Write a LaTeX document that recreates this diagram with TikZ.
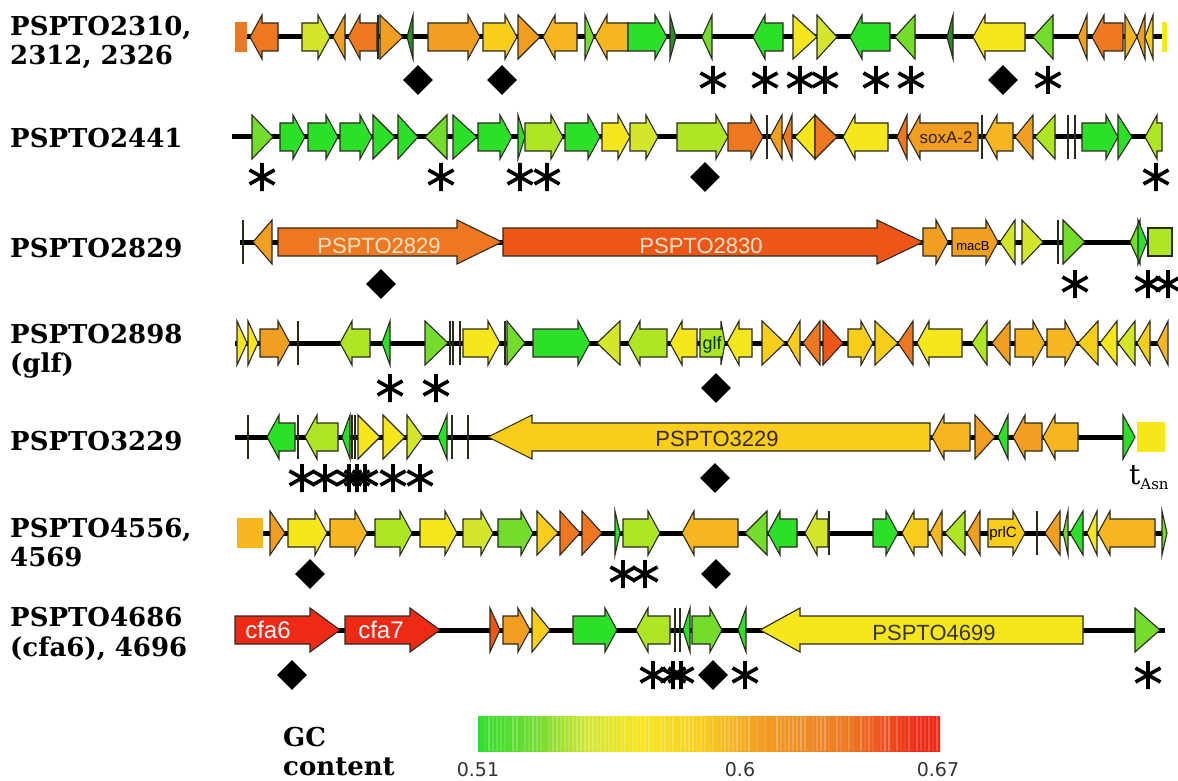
\documentclass[tikz,border=0pt]{standalone}
\usepackage{fontspec}
\setmainfont{DejaVu Serif}
\newfontfamily\genefont{Liberation Sans}
\newfontfamily\tickfont{DejaVu Sans}
\usetikzlibrary{shapes.geometric}

\definecolor{gc_green}{HTML}{2CE02A}
\definecolor{gc_lime}{HTML}{74DC2C}
\definecolor{gc_olive}{HTML}{AEE626}
\definecolor{gc_chartreuse}{HTML}{D4E62A}
\definecolor{gc_yellow}{HTML}{F6E61C}
\definecolor{gc_gold}{HTML}{F8CE1A}
\definecolor{gc_amber}{HTML}{F6B620}
\definecolor{gc_orange}{HTML}{F29E20}
\definecolor{gc_tangerine}{HTML}{EE7822}
\definecolor{gc_vermilion}{HTML}{EE5618}
\definecolor{gc_red}{HTML}{EE2A16}
\definecolor{gc_dark}{HTML}{2E8A2E}
\definecolor{gene_edge}{HTML}{2A2A1A}

\pgfdeclarehorizontalshading{gcbar}{100bp}{color(0bp)=(gc_green); color(25bp)=(gc_green);
  color(31.5bp)=(gc_lime); color(37bp)=(gc_chartreuse); color(42.5bp)=(gc_yellow);
  color(49bp)=(gc_gold); color(55.5bp)=(gc_orange); color(65bp)=(gc_tangerine);
  color(72.5bp)=(gc_red); color(75bp)=(gc_red); color(100bp)=(gc_red)}

\tikzset{
  genebox/.style={draw=gene_edge, line width=1.1pt, line join=miter},
  backbone/.style={line width=5pt, black},
  rowlabel/.style={anchor=base west, inner sep=0pt, font=\bfseries\fontsize{26}{30}\selectfont},
  genelabel/.style={inner sep=0pt, font=\genefont\fontsize{22}{22}\selectfont},
  diam/.style={diamond, fill=black, inner sep=0pt, minimum size=30pt},
  astmark/.pic={\draw[line width=3.6pt] (0,-14) -- (0,14) (-12.5,-7) -- (12.5,7) (-12.5,7) -- (12.5,-7);},
}

% #1 head length, #2 row y, #3 from, #4 to, #5 kind, #6 colour
\newcommand{\gene}[6][12]{%
  \if r#5\filldraw[genebox,fill=#6] (#3,#2-14) -- (#4-#1,#2-14) -- (#4-#1,#2-22) -- (#4,#2)
     -- (#4-#1,#2+22) -- (#4-#1,#2+14) -- (#3,#2+14) -- cycle;\fi
  \if l#5\filldraw[genebox,fill=#6] (#3,#2) -- (#3+#1,#2-22) -- (#3+#1,#2-14) -- (#4,#2-14)
     -- (#4,#2+14) -- (#3+#1,#2+14) -- (#3+#1,#2+22) -- cycle;\fi
  \if R#5\filldraw[genebox,fill=#6] (#3,#2-22) -- (#4,#2) -- (#3,#2+22) -- cycle;\fi
  \if L#5\filldraw[genebox,fill=#6] (#4,#2-22) -- (#3,#2) -- (#4,#2+22) -- cycle;\fi
  \if b#5\filldraw[genebox,fill=#6] (#3,#2-14) rectangle (#4,#2+14);\fi
  \if p#5\fill[#6] (#3,#2-15) rectangle (#4,#2+15);\fi
  \if t#5\draw[line width=1.3pt,gene_edge] (#3,#2-22) -- (#3,#2+22);\fi
}

\begin{document}
\begin{tikzpicture}[x=1pt,y=-1pt,line cap=butt]
\useasboundingbox (0,0) rectangle (1178,781);
\fill[white] (0,0) rectangle (1178,781);

% Row labels
\node[rowlabel] (lab1a) at (10,36) {PSPTO2310,};
\node[rowlabel] (lab1b) at (10,65) {2312, 2326};
\node[rowlabel] (lab2) at (10,147) {PSPTO2441};
\node[rowlabel] (lab3) at (10,257) {PSPTO2829};
\node[rowlabel] (lab4a) at (10,343) {PSPTO2898};
\node[rowlabel] (lab4b) at (10,372) {(glf)};
\node[rowlabel] (lab5) at (10,450) {PSPTO3229};
\node[rowlabel] (lab6a) at (10,537) {PSPTO4556,};
\node[rowlabel] (lab6b) at (10,566) {4569};
\node[rowlabel] (lab7a) at (10,626) {PSPTO4686};
\node[rowlabel] (lab7b) at (10,656) {(cfa6), 4696};

%-----------------------------------------------
% PSPTO2310, 2312, 2326
\draw[backbone] (235,37) -- (1163,37);
\foreach \gtype/\gfrom/\gto/\gcol in {p/235/247/gc_tangerine, l/250/278/gc_tangerine,
  r/302/330/gc_chartreuse, L/333/345/gc_orange, l/348/377/gc_tangerine, t/378/378/gc_dark,
  R/380/403/gc_orange, L/407/413/gc_dark, r/428/480/gc_orange, r/483/517/gc_gold,
  R/518/540/gc_orange, l/543/577/gc_amber, R/585/594/gc_lime, l/595/628/gc_amber,
  r/628/667/gc_green, R/670/676/gc_dark, L/702/712/gc_lime, l/753/783/gc_green,
  R/793/817/gc_yellow, R/817/837/gc_chartreuse, l/850/890/gc_green, L/895/915/gc_lime,
  L/947/953/gc_dark, l/973/1025/gc_yellow, L/1033/1053/gc_lime, L/1078/1087/gc_orange,
  l/1092/1123/gc_tangerine, R/1125/1137/gc_amber, L/1137/1145/gc_orange,
  L/1145/1153/gc_gold, p/1162/1167/gc_yellow}
  {\gene{37}{\gfrom}{\gto}{\gtype}{\gcol}}

%-----------------------------------------------
% PSPTO2441
\draw[backbone] (232,137) -- (1162,137);
\foreach \gtype/\gfrom/\gto/\gcol in {R/252/273/gc_lime, r/280/305/gc_green,
  r/308/338/gc_green, r/340/372/gc_green, R/373/395/gc_green, R/398/418/gc_green,
  L/425/447/gc_lime, R/453/477/gc_green, r/478/512/gc_green, R/518/525/gc_green,
  r/525/563/gc_olive, r/565/600/gc_green, r/602/630/gc_yellow, r/630/658/gc_chartreuse,
  r/677/728/gc_olive, r/728/763/gc_tangerine, t/767/767/gc_dark, L/770/782/gc_orange,
  L/783/792/gc_tangerine, L/795/815/gc_yellow, R/815/837/gc_tangerine,
  l/843/888/gc_yellow, L/897/907/gc_tangerine, l/908/978/gc_orange, t/982/982/gc_dark,
  l/985/1013/gc_amber, L/1015/1033/gc_orange, L/1035/1055/gc_olive, t/1068/1068/gc_dark,
  t/1075/1075/gc_dark, r/1082/1118/gc_green, R/1118/1132/gc_green, l/1145/1162/gc_olive}
  {\gene{137}{\gfrom}{\gto}{\gtype}{\gcol}}
\node[genelabel, font=\genefont\fontsize{17}{17}\selectfont, text=black!75!brown] (sox) at (946,138) {soxA-2};

%-----------------------------------------------
% PSPTO2829
\draw[backbone] (240,242) -- (1148,242);
\foreach \gtype/\gfrom/\gto/\gcol in {t/243/243/gc_dark, L/253/272/gc_orange,
  r/923/948/gc_orange, r/952/998/gc_orange, L/1000/1015/gc_chartreuse,
  R/1022/1043/gc_chartreuse, t/1058/1058/gc_dark, R/1063/1085/gc_lime,
  L/1130/1140/gc_lime, R/1138/1147/gc_green, b/1148/1172/gc_olive}
  {\gene{242}{\gfrom}{\gto}{\gtype}{\gcol}}
\gene[45]{242}{278}{502}{r}{gc_tangerine}
\gene[46]{242}{503}{923}{r}{gc_vermilion}
\node[genelabel, text=orange!20!white] (g2829) at (379,246) {PSPTO2829};
\node[genelabel, text=orange!20!white] (g2830) at (701,246) {PSPTO2830};
\node[genelabel, font=\genefont\fontsize{13}{13}\selectfont, text=black] (macb) at (973,246) {macB};

%-----------------------------------------------
% PSPTO2898 (glf)
\draw[backbone] (235,343) -- (1168,343);
\foreach \gtype/\gfrom/\gto/\gcol in {R/237/247/gc_yellow, R/248/258/gc_yellow,
  r/260/290/gc_orange, t/298/298/gc_dark, l/340/370/gc_olive, L/382/390/gc_green,
  R/425/448/gc_lime, t/450/450/gc_dark, t/453/453/gc_dark, t/460/460/gc_dark,
  r/463/500/gc_yellow, t/505/505/gc_dark, R/507/525/gc_lime, r/533/590/gc_green,
  L/597/620/gc_chartreuse, l/628/667/gc_olive, l/670/697/gc_yellow, l/727/752/gc_yellow,
  R/762/785/gc_gold, L/787/800/gc_gold, L/803/820/gc_tangerine, R/823/843/gc_vermilion,
  r/848/873/gc_gold, R/875/898/gc_gold, L/898/913/gc_tangerine, l/917/962/gc_yellow,
  L/972/987/gc_olive, L/992/1010/gc_orange, r/1015/1045/gc_amber, r/1047/1077/gc_amber,
  L/1078/1098/gc_gold, L/1100/1117/gc_yellow, L/1118/1135/gc_chartreuse,
  L/1137/1150/gc_gold, L/1157/1168/gc_amber}
  {\gene{343}{\gfrom}{\gto}{\gtype}{\gcol}}
\gene[4]{343}{700}{725}{r}{gc_olive}
\node[genelabel, font=\genefont\fontsize{18}{18}\selectfont, text=black!80!green] (glf) at (712,345) {glf};

%-----------------------------------------------
% PSPTO3229
\draw[backbone] (235,437) -- (1125,437);
\foreach \gtype/\gfrom/\gto/\gcol in {t/248/248/gc_dark, l/267/295/gc_green,
  t/298/298/gc_dark, l/305/338/gc_olive, L/342/350/gc_green, t/352/352/gc_dark,
  t/355/355/gc_dark, R/358/380/gc_yellow, R/383/405/gc_yellow, R/407/423/gc_chartreuse,
  L/438/447/gc_green, t/452/452/gc_dark, t/468/468/gc_dark, l/932/970/gc_amber,
  R/975/995/gc_orange, L/998/1008/gc_green, l/1013/1042/gc_orange, l/1043/1078/gc_amber,
  R/1123/1135/gc_green, p/1137/1165/gc_yellow}
  {\gene{437}{\gfrom}{\gto}{\gtype}{\gcol}}
\gene[44]{437}{488}{930}{l}{gc_gold}
\node[genelabel, text=black!70!brown] (g3229) at (717,439) {PSPTO3229};
\node[anchor=base west, inner sep=0pt] (tasn) at (1129,484)
  {\fontsize{28}{28}\selectfont t\fontsize{15}{15}\selectfont\raisebox{-5pt}{Asn}};

%-----------------------------------------------
% PSPTO4556, 4569
\draw[backbone] (237,533) -- (1167,533);
\foreach \gtype/\gfrom/\gto/\gcol in {p/237/263/gc_amber, R/270/285/gc_orange,
  r/288/327/gc_yellow, r/330/367/gc_amber, r/375/412/gc_olive, r/420/457/gc_yellow,
  r/463/493/gc_chartreuse, r/498/533/gc_lime, R/537/558/gc_gold, R/560/580/gc_tangerine,
  R/582/602/gc_tangerine, R/615/620/gc_green, r/623/660/gc_olive, l/682/738/gc_amber,
  L/745/767/gc_lime, l/768/797/gc_green, l/805/828/gc_chartreuse, t/829/829/gc_dark,
  r/873/898/gc_green, l/902/928/gc_gold, L/930/942/gc_amber, L/945/965/gc_olive,
  L/967/980/gc_orange, r/988/1025/gc_gold, t/1037/1037/gc_dark, L/1045/1060/gc_orange,
  L/1063/1068/gc_lime, L/1070/1083/gc_green, L/1087/1097/gc_yellow,
  l/1098/1155/gc_amber, R/1162/1167/gc_lime}
  {\gene{533}{\gfrom}{\gto}{\gtype}{\gcol}}
\node[genelabel, font=\genefont\fontsize{15}{15}\selectfont, text=black] (prlc) at (1003,534) {prlC};

%-----------------------------------------------
% PSPTO4686 (cfa6), 4696
\draw[backbone] (235,630) -- (1165,630);
\foreach \gtype/\gfrom/\gto/\gcol in {R/490/500/gc_vermilion, r/503/530/gc_orange,
  R/532/550/gc_gold, r/573/617/gc_green, l/636/670/gc_olive, t/675/675/gc_dark,
  t/680/680/gc_dark, L/683/690/gc_green, r/692/722/gc_lime, L/738/746/gc_green,
  R/1135/1160/gc_lime}
  {\gene{630}{\gfrom}{\gto}{\gtype}{\gcol}}
\gene[30]{630}{235}{340}{r}{gc_red}
\gene[30]{630}{345}{440}{r}{gc_red}
\gene[40]{630}{760}{1083}{l}{gc_yellow}
\node[genelabel, font=\genefont\fontsize{24}{24}\selectfont, text=white] (cfa6) at (268,630) {cfa6};
\node[genelabel, font=\genefont\fontsize{24}{24}\selectfont, text=white] (cfa7) at (381,630) {cfa7};
\node[genelabel, text=black!80!olive] (g4699) at (934,633) {PSPTO4699};

%-----------------------------------------------
% Markers below the genes
\foreach \px/\py [count=\i] in {418/80, 502/80, 1003/80, 705/177, 381/284, 716/388,
  715/478, 310/574, 716/574, 292/675, 713/675}
  {\node[diam] (diam\i) at (\px,\py) {};}
\foreach \px/\py in {713/80, 765/80, 800/80, 825/80, 876/80, 911/80, 1048/80,
  262/177, 441/177, 520/177, 547/177, 1156/177,
  1075/284, 1148/284, 1168/284,
  390/388, 436/388,
  302/478, 325/478, 349/478, 357/478, 365/478, 393/478, 420/478,
  623/574, 645/574,
  653/675, 673/675, 681/675, 745/675, 1148/675}
  {\pic at (\px,\py) {astmark};}

%-----------------------------------------------
% GC content scale
\node[rowlabel] (gca) at (283,746) {GC};
\node[rowlabel] (gcb) at (283,775) {content};
\shade[shading=gcbar] (478,716) rectangle (940,751);
\pgfmathsetseed{3}
\foreach \sx in {480,484,...,936}
{
  \pgfmathsetmacro\sop{0.28*rnd}
  \fill[white,opacity=\sop] (\sx,716) rectangle (\sx+2,751);
}
\foreach \tx/\tl [count=\i] in {478/0.51, 740/0.6, 938/0.67}
  {\node[inner sep=0pt, text=black!80, font=\tickfont\fontsize{19}{19}\selectfont] (tick\i) at (\tx,770) {\tl};}

\end{tikzpicture}
\end{document}
